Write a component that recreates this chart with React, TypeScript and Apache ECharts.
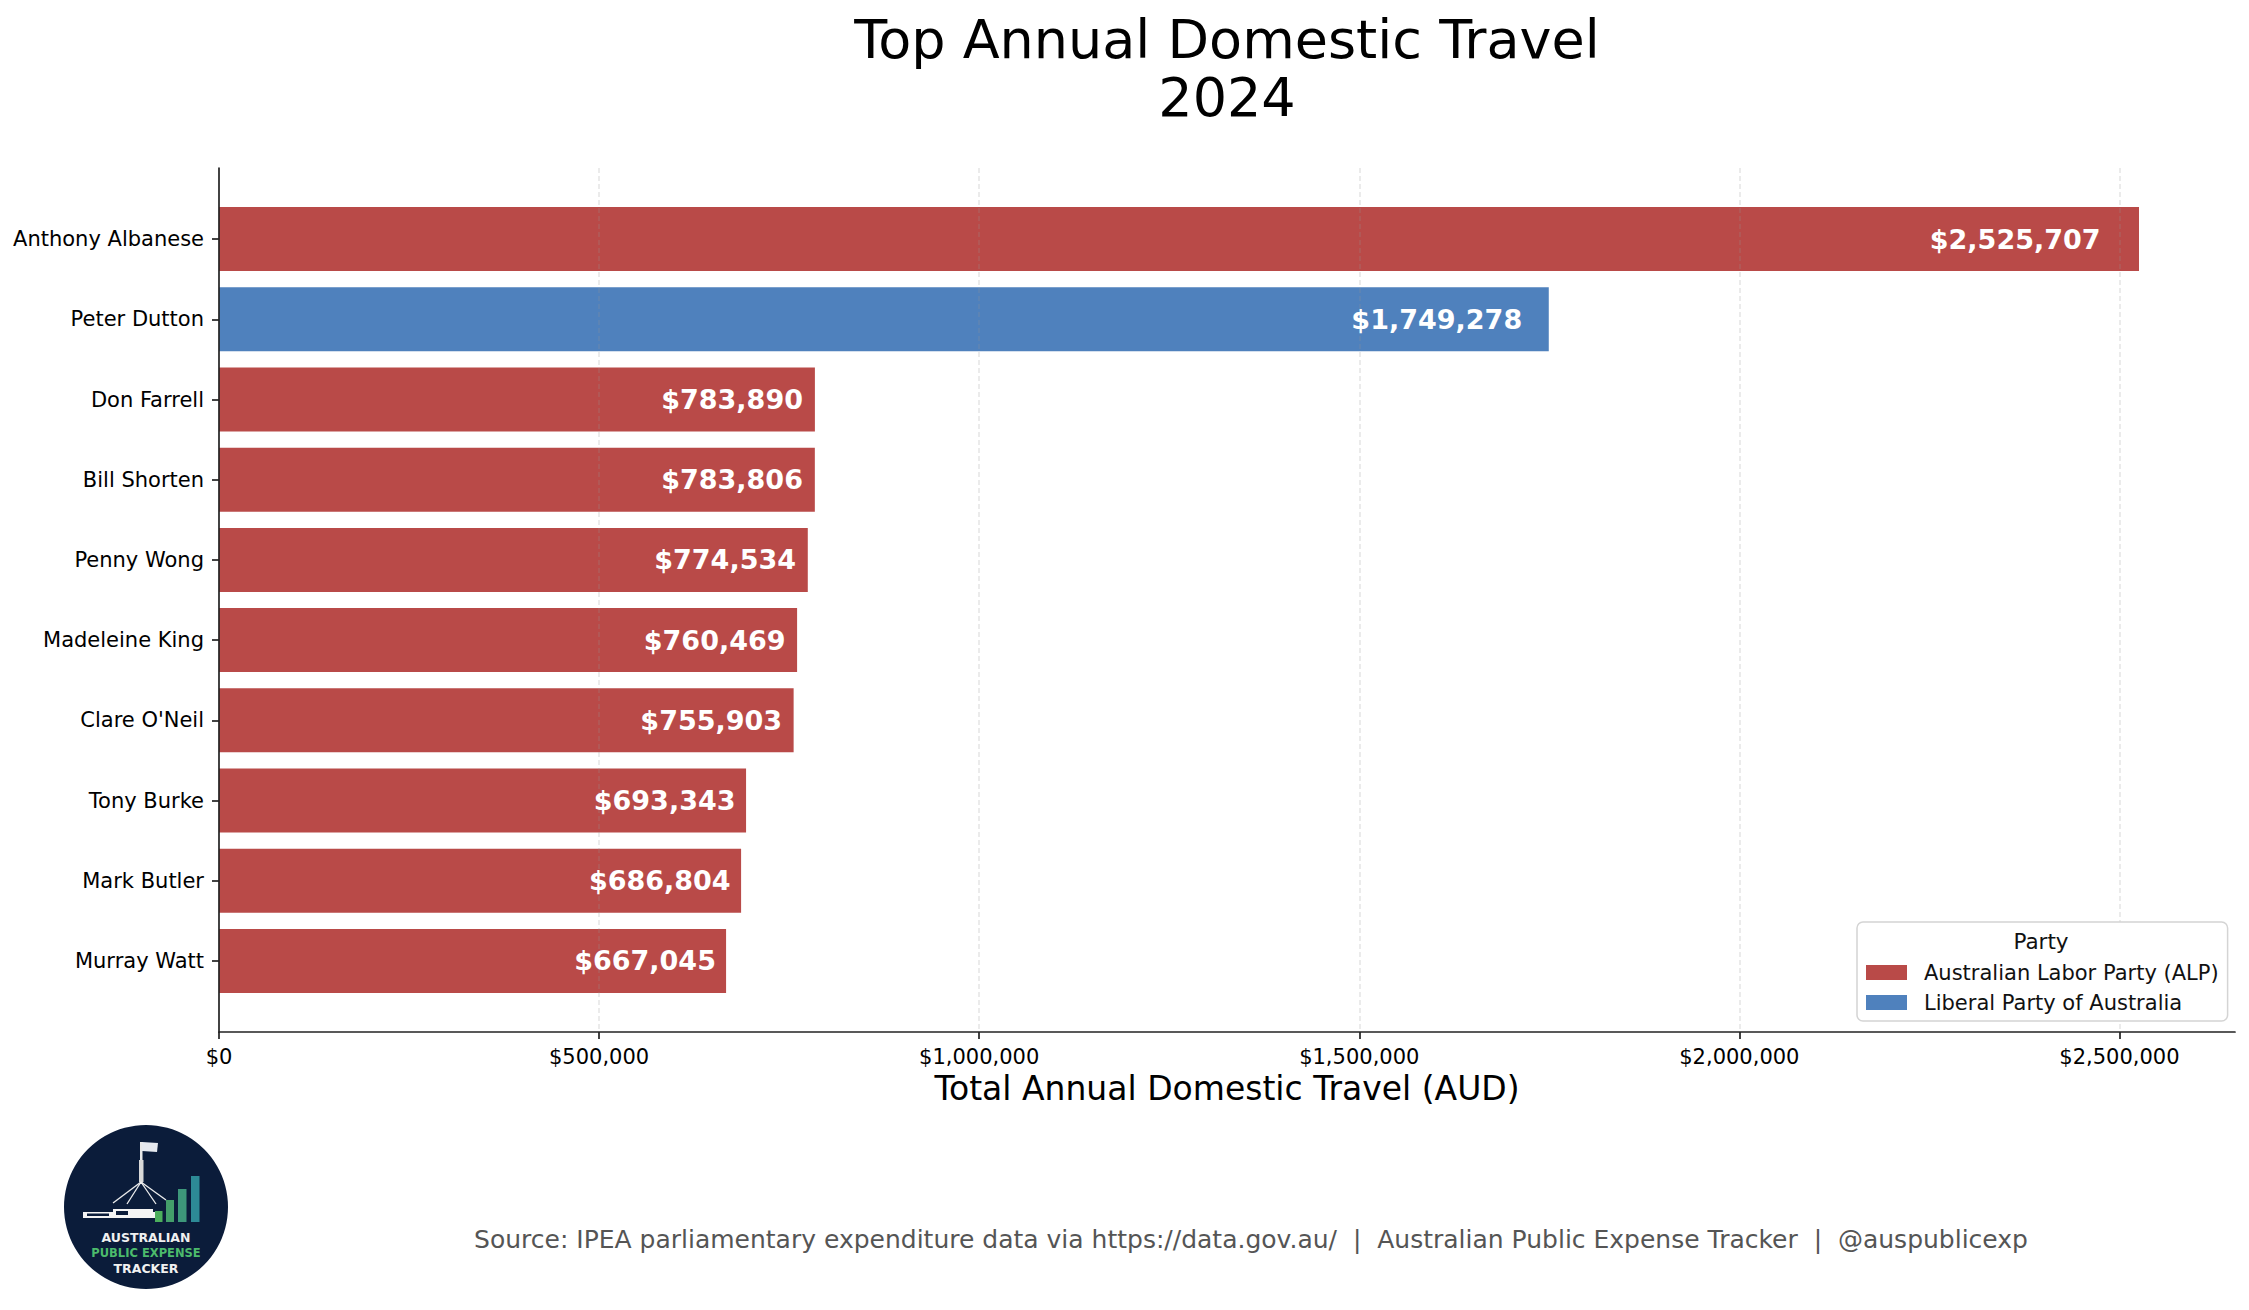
import React, { useEffect, useRef } from 'react';
import * as echarts from 'echarts';

const members = [
  'Anthony Albanese',
  'Peter Dutton',
  'Don Farrell',
  'Bill Shorten',
  'Penny Wong',
  'Madeleine King',
  "Clare O'Neil",
  'Tony Burke',
  'Mark Butler',
  'Murray Watt',
];
const travelTotals = [2525707, 1749278, 783890, 783806, 774534, 760469, 755903, 693343, 686804, 667045];
const memberParty = ['ALP', 'LP', 'ALP', 'ALP', 'ALP', 'ALP', 'ALP', 'ALP', 'ALP', 'ALP'];
const partyCodes = ['ALP', 'LP'];
const partyNames = ['Australian Labor Party (ALP)', 'Liberal Party of Australia'];
const partyColors = ['#B94A48', '#4F81BD'];
const xTicks = [0, 500000, 1000000, 1500000, 2000000, 2500000];

const FONT = '"DejaVu Sans", "Liberation Sans", sans-serif';
const money = (v: number) => '$' + Math.round(v).toLocaleString('en-US');

const App: React.FC = () => {
  const chartRef = useRef<HTMLDivElement>(null);

  useEffect(() => {
    document.body.style.margin = '0';
    document.body.style.overflow = 'hidden';
    if (!chartRef.current) return;
    const chart = echarts.init(chartRef.current, undefined, { renderer: 'svg' });

    // matplotlib style 5% margin past the longest bar
    const xMax = Math.max(...travelTotals) * 1.05;
    const spine = { color: '#222', width: 1.7 };

    const bars = partyCodes.map((code, i) => ({
      name: partyNames[i],
      type: 'bar',
      xAxisIndex: 1,
      yAxisIndex: 1,
      barWidth: 64,
      barGap: '-100%',
      data: travelTotals.map((v, k) => (memberParty[k] === code ? v : null)),
      itemStyle: { color: partyColors[i] },
      z: 2,
    }));

    // value labels sit right-aligned at 98% of each bar
    const valueLabels = {
      type: 'scatter',
      xAxisIndex: 1,
      yAxisIndex: 1,
      symbolSize: 0,
      silent: true,
      z: 4,
      itemStyle: { color: '#fff', opacity: 1 },
      data: travelTotals.map((v, k) => [v * 0.98, k, v]),
      label: {
        show: true,
        position: 'left',
        distance: 0,
        color: '#ffffff',
        opacity: 1,
        textBorderWidth: 0,
        textShadowBlur: 0,
        fontWeight: 'bold',
        fontSize: 27,
        fontFamily: FONT,
        formatter: (p: any) => money(p.value[2]),
      },
      emphasis: { disabled: true },
    };

    const txt = (text: string, x: number, y: number, font: string, fill: string) => ({
      type: 'text',
      x,
      y,
      style: { text, fill, font, textAlign: 'center', textVerticalAlign: 'middle', align: 'center', verticalAlign: 'middle' },
    });

    const logo = {
      type: 'group',
      children: [
        { type: 'circle', shape: { cx: 146, cy: 1207, r: 82 }, style: { fill: '#0b1c3a' } },
        // flag pole and flag
        { type: 'rect', shape: { x: 140, y: 1142, width: 2.5, height: 42 }, style: { fill: '#e8e8e8' } },
        { type: 'rect', shape: { x: 139, y: 1160, width: 4.5, height: 22 }, style: { fill: '#d8d8d8' } },
        { type: 'polygon', shape: { points: [[142, 1142], [158, 1143], [157, 1152], [142, 1151]] }, style: { fill: '#e6e9ef' } },
        { type: 'line', shape: { x1: 141, y1: 1182, x2: 113, y2: 1203 }, style: { stroke: '#eee', lineWidth: 1.3 } },
        { type: 'line', shape: { x1: 141, y1: 1182, x2: 127, y2: 1204 }, style: { stroke: '#eee', lineWidth: 1.3 } },
        { type: 'line', shape: { x1: 141, y1: 1182, x2: 156, y2: 1204 }, style: { stroke: '#eee', lineWidth: 1.3 } },
        { type: 'line', shape: { x1: 141, y1: 1182, x2: 166, y2: 1200 }, style: { stroke: '#eee', lineWidth: 1.3 } },
        // parliament building
        { type: 'rect', shape: { x: 83, y: 1212, width: 72, height: 6 }, style: { fill: '#f4f4f4' } },
        { type: 'rect', shape: { x: 113, y: 1209, width: 40, height: 9 }, style: { fill: '#f4f4f4' } },
        { type: 'rect', shape: { x: 87, y: 1213.5, width: 22, height: 2.5 }, style: { fill: '#0b1c3a' } },
        { type: 'rect', shape: { x: 116, y: 1211, width: 12, height: 4 }, style: { fill: '#0b1c3a' } },
        // rising bars
        { type: 'rect', shape: { x: 155, y: 1211, width: 7.5, height: 11 }, style: { fill: '#4cae5c' } },
        { type: 'rect', shape: { x: 166, y: 1200, width: 8, height: 22 }, style: { fill: '#449e6a' } },
        { type: 'rect', shape: { x: 178, y: 1189, width: 8.5, height: 33 }, style: { fill: '#3d977a' } },
        { type: 'rect', shape: { x: 191, y: 1176, width: 8.5, height: 46 }, style: { fill: '#2d8a96' } },
        txt('AUSTRALIAN', 146, 1237, `bold 12.5px ${FONT}`, '#f0f0f0'),
        txt('PUBLIC EXPENSE', 146, 1253, `bold 11.5px ${FONT}`, '#4cbb6c'),
        txt('TRACKER', 146, 1268, `bold 12.5px ${FONT}`, '#f0f0f0'),
      ],
    };

    chart.setOption({
      animation: false,
      backgroundColor: '#fff',
      textStyle: { fontFamily: FONT },
      title: {
        text: 'Top Annual Domestic Travel\n2024',
        left: 1227,
        top: 10,
        padding: 0,
        textAlign: 'center',
        textStyle: { fontSize: 54, fontWeight: 'normal', color: '#000', lineHeight: 58, fontFamily: FONT },
      },
      legend: {
        data: partyNames,
        orient: 'vertical',
        left: 1857,
        top: 922,
        padding: [40, 9, 8, 9],
        itemWidth: 41,
        itemHeight: 15,
        itemGap: 9,
        icon: 'rect',
        backgroundColor: '#fff',
        borderColor: '#d4d4d4',
        borderWidth: 1.5,
        borderRadius: 6,
        textStyle: { fontSize: 21, color: '#111', fontFamily: FONT, padding: [0, 0, 0, 12] },
        z: 5,
      },
      grid: [
        { left: 219, right: 14, top: 168, bottom: 278 },
        { left: 219, right: 14, top: 199, height: 802 },
      ],
      xAxis: [
        {
          gridIndex: 0,
          type: 'value',
          min: 0,
          max: xMax,
          interval: 500000,
          z: 3,
          name: 'Total Annual Domestic Travel (AUD)',
          nameLocation: 'middle',
          nameGap: 40,
          nameTextStyle: { fontSize: 33, color: '#000', fontFamily: FONT },
          axisLine: { show: true, lineStyle: spine },
          axisTick: { show: true, length: 7, lineStyle: spine, customValues: xTicks },
          axisLabel: { fontSize: 21, color: '#000', margin: 14, customValues: xTicks, formatter: (v: number) => money(v) },
          splitLine: {
            show: true,
            showMinLine: false,
            lineStyle: { type: [5, 3], color: 'rgba(150,150,150,0.25)', width: 1.5 },
          },
        },
        { gridIndex: 1, type: 'value', min: 0, max: xMax, show: false },
      ],
      yAxis: [
        {
          gridIndex: 0,
          type: 'value',
          min: 0,
          max: 1,
          z: 3,
          axisLine: { show: true, lineStyle: spine },
          axisTick: { show: false },
          axisLabel: { show: false },
          splitLine: { show: false },
        },
        {
          gridIndex: 1,
          type: 'category',
          data: members,
          inverse: true,
          axisLine: { show: false },
          axisTick: { show: true, alignWithLabel: true, length: 7, lineStyle: spine },
          axisLabel: { fontSize: 21, color: '#000', margin: 15, fontFamily: FONT },
          splitLine: { show: false },
        },
      ],
      series: [...bars, valueLabels],
      graphic: [
        logo,
        { ...txt('Party', 2041, 941, `21.5px ${FONT}`, '#111'), z: 10 },
        txt(
          'Source: IPEA parliamentary expenditure data via https://data.gov.au/  |  Australian Public Expense Tracker  |  @auspublicexp',
          1251,
          1239,
          `25px ${FONT}`,
          '#555'
        ),
      ],
    });

    return () => {
      chart.dispose();
    };
  }, []);

  return <div ref={chartRef} style={{ width: '2249px', height: '1310px' }}></div>;
};

export default App;
